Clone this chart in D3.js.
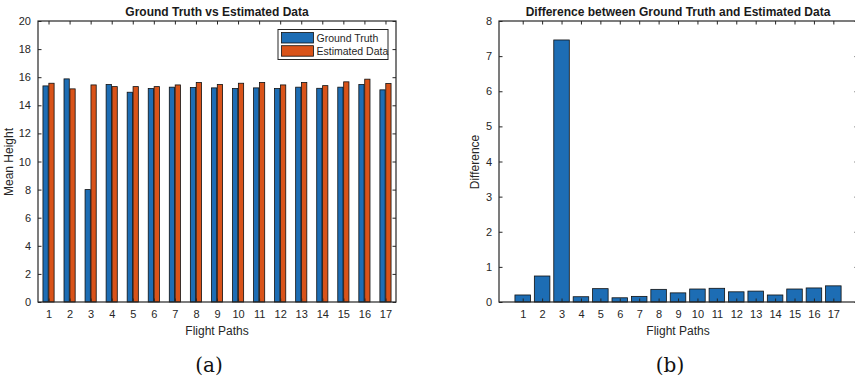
<!doctype html>
<html>
  <head>
    <meta charset="utf-8">
    <title>Ground Truth vs Estimated Data</title>
    <style>
    body {
      margin: 0;
      background-color: #ffffff;
      font-family: 'Liberation Sans', Arial, sans-serif;
    }
    .tick text { fill: #262626; font-size: 11px; }
    </style>
    <script src="https://cdnjs.cloudflare.com/ajax/libs/d3/7.8.5/d3.min.js"></script>
  </head>
  <body>
    <div id="chart"></div>

    <script>

      // data
      const paths = [1, 2, 3, 4, 5, 6, 7, 8, 9, 10, 11, 12, 13, 14, 15, 16, 17];
      const groundTruth = [15.38, 15.88, 8.0, 15.48, 14.93, 15.19, 15.29, 15.26, 15.24,
                           15.19, 15.24, 15.19, 15.29, 15.21, 15.29, 15.48, 15.10];
      const estimated = [15.57, 15.17, 15.45, 15.33, 15.33, 15.33, 15.45, 15.62, 15.48,
                         15.57, 15.62, 15.45, 15.62, 15.40, 15.67, 15.86, 15.55];
      const difference = [0.20, 0.74, 7.46, 0.15, 0.38, 0.12, 0.16, 0.36, 0.26,
                          0.37, 0.39, 0.29, 0.31, 0.20, 0.37, 0.40, 0.46];
      const heightTicks = [0, 2, 4, 6, 8, 10, 12, 14, 16, 18, 20];
      const diffTicks = [0, 1, 2, 3, 4, 5, 6, 7, 8];
      const seriesNames = ['Ground Truth', 'Estimated Data'];

      const blue = '#1d6db4', orange = '#d95319', axisColor = '#262626';

      const svg = d3.select('#chart')
        .append('svg')
        .attr('width', 855)
        .attr('height', 380)

      // draws a matlab style boxed axes with inward ticks
      function boxAxes(g, x, y, xTicks, yTicks) {
        const [x0, x1] = x.range(), [y0, y1] = y.range();
        const tl = 3.5;

        g.append('g')
          .attr('transform', `translate(0,${y0})`)
          .call(d3.axisBottom(x).tickValues(xTicks).tickSizeInner(-tl).tickSizeOuter(0).tickPadding(8))
        g.append('g')
          .attr('transform', `translate(0,${y1})`)
          .call(d3.axisTop(x).tickValues(xTicks).tickSizeInner(-tl).tickSizeOuter(0).tickFormat(''))
        g.append('g')
          .attr('transform', `translate(${x0},0)`)
          .call(d3.axisLeft(y).tickValues(yTicks).tickSizeInner(-tl).tickSizeOuter(0).tickPadding(7))
        g.append('g')
          .attr('transform', `translate(${x1},0)`)
          .call(d3.axisRight(y).tickValues(yTicks).tickSizeInner(-tl).tickSizeOuter(0).tickFormat(''))

        g.selectAll('.domain').remove();
        g.selectAll('.tick line').attr('stroke', axisColor);
        g.selectAll('.tick text').style('font-family', "'Liberation Sans', Arial, sans-serif");

        g.append('rect')
          .attr('x', x0).attr('y', y1)
          .attr('width', x1 - x0).attr('height', y0 - y1)
          .attr('fill', 'none')
          .attr('stroke', axisColor)
          .attr('stroke-width', 1.2)
      }

      function labels(g, cx, title, xLab, yLab, yLabX, yLabY, sub) {
        g.append('text')
          .attr('x', cx).attr('y', 16)
          .attr('text-anchor', 'middle')
          .style('font-weight', 'bold')
          .style('font-size', '12px')
          .attr('fill', '#1a1a1a')
          .text(title)
        g.append('text')
          .attr('x', cx).attr('y', 335)
          .attr('text-anchor', 'middle')
          .style('font-size', '12px')
          .attr('fill', axisColor)
          .text(xLab)
        g.append('text')
          .attr('transform', `translate(${yLabX},${yLabY}) rotate(-90)`)
          .attr('text-anchor', 'middle')
          .style('font-size', '12px')
          .attr('fill', axisColor)
          .text(yLab)
        g.append('text')
          .attr('x', cx - 8).attr('y', 372)
          .attr('text-anchor', 'middle')
          .style('font-family', "'DejaVu Serif', 'Liberation Serif', serif")
          .style('font-size', '20px')
          .attr('fill', '#111')
          .text(sub)
      }

      // (a) grouped bars
      const xa = d3.scaleLinear().domain([0.5, 17.5]).range([38, 396]);
      const ya = d3.scaleLinear().domain([0, 20]).range([302, 21]);
      const left = svg.append('g');

      const barW = 0.25, off = 0.14;
      [groundTruth, estimated].forEach((series, s) => {
        left.append('g')
          .selectAll('rect')
          .data(series)
          .join('rect')
          .attr('x', (d, i) => xa(paths[i] + (s === 0 ? -off : off) - barW / 2))
          .attr('y', d => ya(d))
          .attr('width', xa(barW) - xa(0))
          .attr('height', d => ya(0) - ya(d))
          .attr('fill', s === 0 ? blue : orange)
          .attr('stroke', '#111')
          .attr('stroke-width', 0.8)
      });

      boxAxes(left, xa, ya, paths, heightTicks);
      labels(left, 217, 'Ground Truth vs Estimated Data', 'Flight Paths', 'Mean Height', 13, 162, '(a)');

      // legend
      const lg = left.append('g').attr('transform', 'translate(278,29.5)');
      lg.append('rect')
        .attr('width', 110).attr('height', 30)
        .attr('fill', '#fff')
        .attr('stroke', axisColor)
        .attr('stroke-width', 1)
      seriesNames.forEach((name, i) => {
        lg.append('rect')
          .attr('x', 3.5).attr('y', 3 + i * 13.2)
          .attr('width', 32).attr('height', 10.5)
          .attr('fill', i === 0 ? blue : orange)
          .attr('stroke', '#111')
          .attr('stroke-width', 0.8)
        lg.append('text')
          .attr('x', 38.5).attr('y', 12.5 + i * 13.2)
          .style('font-size', '10.5px')
          .attr('fill', axisColor)
          .text(name)
      });

      // (b) difference bars
      const xb = d3.scaleLinear().domain([-0.221, 18.27]).range([499, 858]);
      const yb = d3.scaleLinear().domain([0, 8]).range([302, 21]);
      const right = svg.append('g');

      right.append('g')
        .selectAll('rect')
        .data(difference)
        .join('rect')
        .attr('x', (d, i) => xb(paths[i] - 0.4))
        .attr('y', d => yb(d))
        .attr('width', xb(0.8) - xb(0))
        .attr('height', d => yb(0) - yb(d))
        .attr('fill', blue)
        .attr('stroke', '#111')
        .attr('stroke-width', 0.8)

      boxAxes(right, xb, yb, paths, diffTicks);
      labels(right, 678, 'Difference between Ground Truth and Estimated Data', 'Flight Paths', 'Difference', 479, 162, '(b)');

    </script>
  </body>
</html>
